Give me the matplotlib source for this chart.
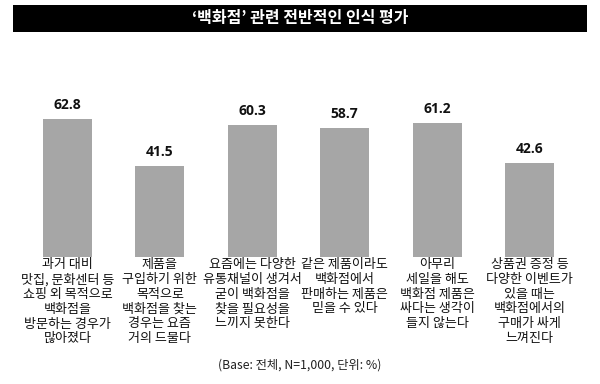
import matplotlib
matplotlib.use("Agg")
import matplotlib.pyplot as plt
from matplotlib.patches import Rectangle

plt.rcParams['font.family'] = ['Noto Sans CJK KR', 'DejaVu Sans']

title = "‘백화점’ 관련 전반적인 인식 평가"
categories = [
    "과거 대비\n맛집, 문화센터 등\n쇼핑 외 목적으로\n백화점을\n방문하는 경우가\n많아졌다",
    "제품을\n구입하기 위한\n목적으로\n백화점을 찾는\n경우는 요즘\n거의 드물다",
    "요즘에는 다양한\n유통채널이 생겨서\n굳이 백화점을\n찾을 필요성을\n느끼지 못한다",
    "같은 제품이라도\n백화점에서\n판매하는 제품은\n믿을 수 있다",
    "아무리\n세일을 해도\n백화점 제품은\n싸다는 생각이\n들지 않는다",
    "상품권 증정 등\n다양한 이벤트가\n있을 때는\n백화점에서의\n구매가 싸게\n느껴진다",
]
values = [62.8, 41.5, 60.3, 58.7, 61.2, 42.6]
note = "(Base: 전체, N=1,000, 단위: %)"

fig = plt.figure(figsize=(6, 3.84), dpi=100)
fig.patch.set_facecolor('white')

# title bar
fig.patches.append(Rectangle((13/600, 1-32/384), 574/600, 27/384,
                             transform=fig.transFigure, facecolor='black',
                             edgecolor='none', zorder=0))
fig.text(0.5, 1-18.5/384, title, color='white', fontsize=11.5,
         fontweight='bold', ha='center', va='center')

ax = fig.add_axes([21.3/600, (384-257)/384, 554.4/600, 219.7/384])
x = list(range(len(values)))
bars = ax.bar(x, values, width=0.53, color='#a6a6a6', edgecolor='none')
ax.set_xlim(-0.5, len(values)-0.5)
ax.set_ylim(0, 100)
ax.axis('off')

for xi, v in zip(x, values):
    ax.annotate(f"{v:.1f}", (xi, v), xytext=(0, 5), textcoords='offset points',
                ha='center', va='bottom', fontsize=10, fontweight='bold',
                family=['Open Sans', 'DejaVu Sans'], color='#111111')

for xi, c in zip(x, categories):
    ax.annotate(c, (xi, 0), xytext=(0, -1), textcoords='offset points',
                ha='center', va='top', fontsize=9.4, linespacing=1.17,
                fontweight='medium', color='#111111')

fig.text(0.5, 1-365/384, note, fontsize=8.8, ha='center', va='center',
         color='#222222')

fig.savefig('out.png', dpi=100)
